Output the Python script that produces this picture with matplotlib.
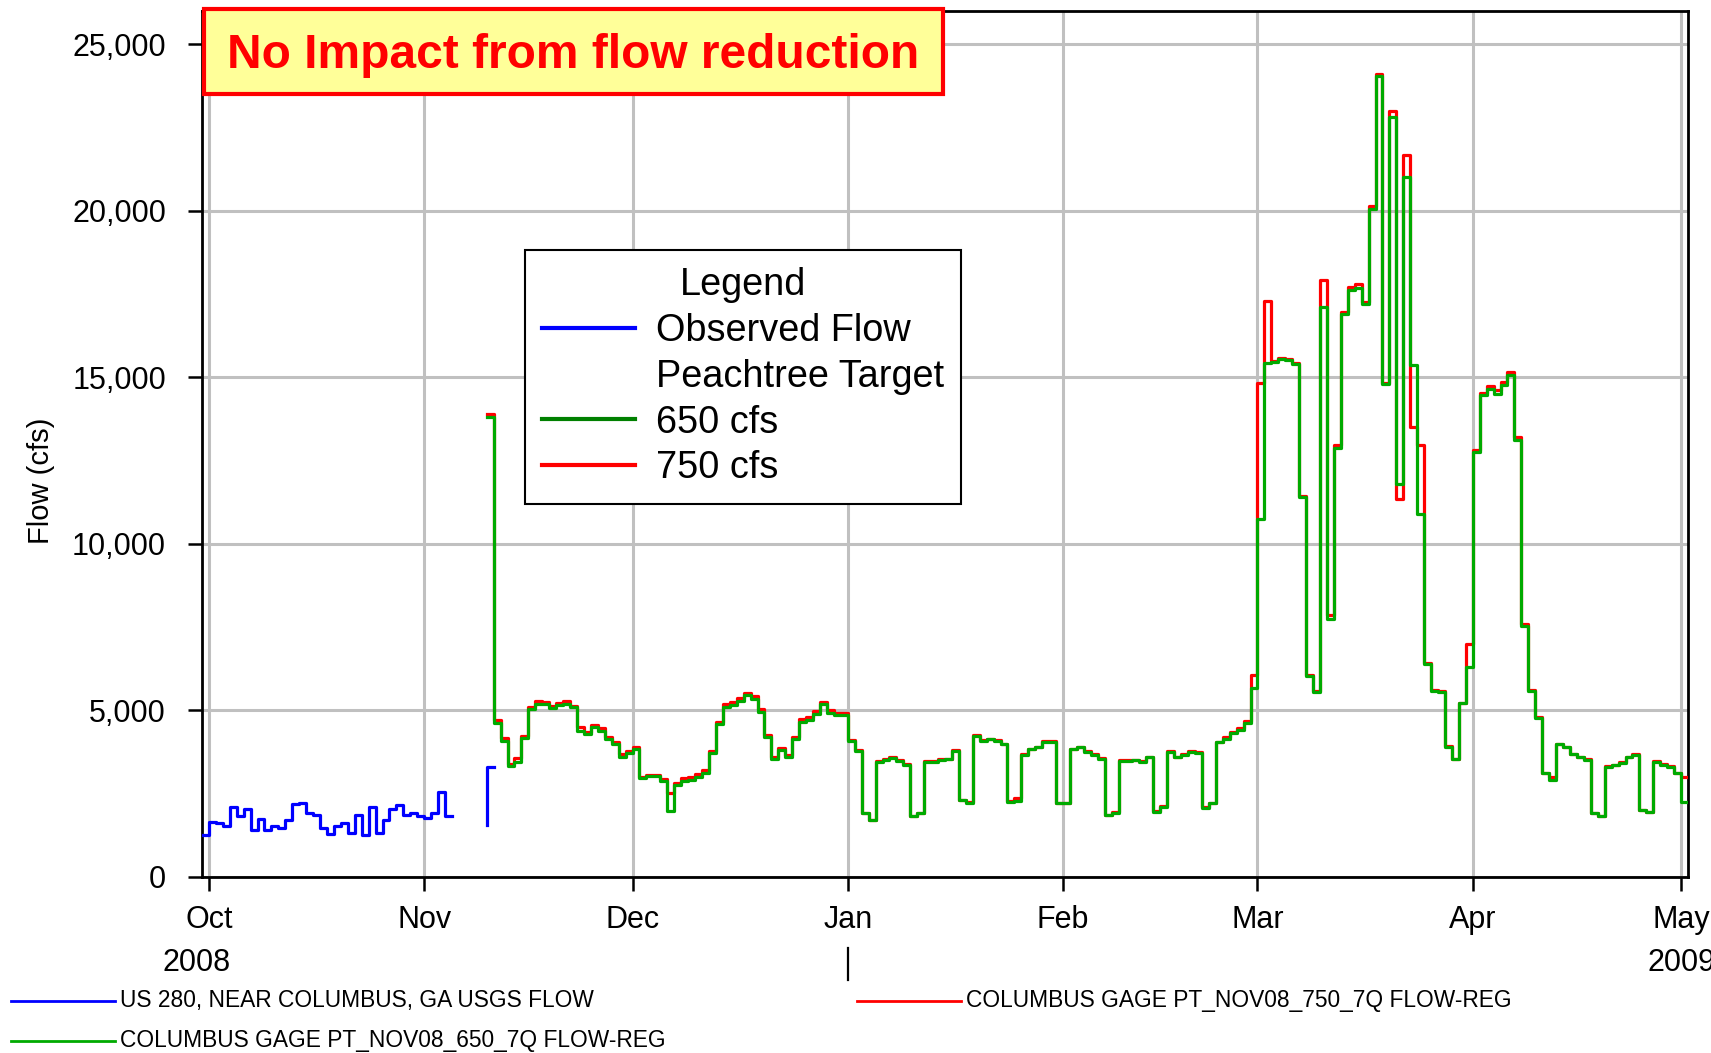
import numpy as np
import pandas as pd
import matplotlib
matplotlib.use("Agg")
import matplotlib.pyplot as plt
import matplotlib.dates as mdates
from matplotlib.lines import Line2D
from matplotlib.patches import Rectangle
from matplotlib.ticker import FuncFormatter, MultipleLocator

plt.rcParams["font.family"] = ["Liberation Sans", "DejaVu Sans"]

# ---- data (daily mean flow, cfs) ----
# observed, US 280 near Columbus, one value per day starting Sep 30 2008
obs_start = "2008-09-30"
obs_flow = [1260, 1660, 1610, 1530, 2100, 1830, 2030, 1410, 1740, 1410,
            1530, 1480, 1710, 2180, 2220, 1910, 1860, 1480, 1290, 1530,
            1610, 1330, 1860, 1260, 2110, 1330, 1710, 2030, 2150, 1860,
            1910, 1830, 1760, 1910, 2560, 1830]
# short observed piece around Nov 10 (period-end stamps)
obs_nov_dates = ["2008-11-10", "2008-11-11"]
obs_nov_flow = [1550, 3290]

# regulated runs, one value per day starting Nov 10 2008
reg_start = "2008-11-10"
f650_nov = [13800, 4630, 4090, 3330, 3460, 4160, 5030, 5190, 5190, 5060, 5160,
            5190, 5090, 4390, 4290, 4490, 4390, 4130, 3990, 3590, 3730]
f650_dec = [3830, 2960, 3030, 3030, 2880, 1990, 2760, 2880, 2910, 2990, 3110,
            3730, 4590, 5090, 5160, 5280, 5450, 5350, 4960, 4190, 3530, 3810,
            3590, 4130, 4660, 4710, 4890, 5190, 4930, 4860, 4860]
f650_jan = [4090, 3790, 1910, 1710, 3460, 3510, 3570, 3480, 3360, 1830, 1910,
            3460, 3450, 3510, 3530, 3780, 2310, 2230, 4230, 4090, 4130, 4090,
            3980, 2260, 2290, 3660, 3830, 3890, 4060, 4050, 2210]
f650_feb = [2210, 3830, 3890, 3760, 3660, 3540, 1860, 1930, 3490, 3490, 3500,
            3460, 3590, 1960, 2110, 3760, 3590, 3660, 3760, 3730, 2080, 2210,
            4040, 4140, 4310, 4410, 4630, 5660]
f650_mar = [10760, 15430, 15460, 15560, 15530, 15410, 11410, 6030, 5550, 17110,
            7760, 12890, 16890, 17630, 17690, 17190, 20060, 24060, 14810, 22810,
            11810, 21010, 15360, 10910, 6390, 5590, 5550, 3910, 3530, 5210, 6290]
f650_apr = [12760, 14460, 14660, 14510, 14760, 15060, 13110, 7530, 5590, 4780,
            3110, 2910, 3980, 3890, 3680, 3590, 3510, 1910, 1830, 3310, 3350,
            3430, 3590, 3660, 2010, 1940, 3460, 3360, 3310, 3110]
f650_may = [2240]

f750_nov = [13900, 4710, 4160, 3390, 3560, 4240, 5090, 5270, 5260, 5140, 5230,
            5270, 5140, 4490, 4360, 4550, 4460, 4210, 4060, 3680, 3790]
f750_dec = [3910, 3010, 3050, 3050, 2930, 2510, 2810, 2980, 3010, 3080, 3210,
            3790, 4660, 5190, 5240, 5360, 5530, 5420, 5050, 4260, 3610, 3870,
            3660, 4190, 4750, 4790, 4990, 5260, 5010, 4920, 4930]
f750_jan = [4110, 3810, 1920, 1720, 3480, 3530, 3590, 3500, 3380, 1840, 1920,
            3480, 3470, 3530, 3550, 3800, 2320, 2240, 4250, 4110, 4150, 4110,
            4000, 2270, 2360, 3680, 3850, 3910, 4080, 4070, 2220]
f750_feb = [2220, 3850, 3910, 3780, 3680, 3560, 1870, 1940, 3510, 3510, 3520,
            3480, 3610, 1970, 2120, 3780, 3610, 3680, 3780, 3750, 2090, 2220,
            4060, 4190, 4360, 4470, 4690, 6060]
f750_mar = [14830, 17290, 15480, 15580, 15550, 15430, 11430, 6050, 5570, 17910,
            7860, 12960, 16960, 17710, 17790, 17260, 20160, 24110, 14830, 23010,
            11340, 21680, 13510, 12980, 6410, 5610, 5570, 3930, 3550, 5230, 6990]
f750_apr = [12830, 14530, 14730, 14610, 14860, 15160, 13210, 7610, 5610, 4800,
            3130, 3010, 4000, 3910, 3700, 3610, 3530, 1920, 1840, 3330, 3370,
            3460, 3610, 3680, 2020, 1950, 3480, 3380, 3330, 3130]
f750_may = [3010]

flow_650 = f650_nov + f650_dec + f650_jan + f650_feb + f650_mar + f650_apr + f650_may
flow_750 = f750_nov + f750_dec + f750_jan + f750_feb + f750_mar + f750_apr + f750_may

bottom_labels = ["US 280, NEAR COLUMBUS, GA USGS FLOW",
                 "COLUMBUS GAGE PT_NOV08_750_7Q FLOW-REG",
                 "COLUMBUS GAGE PT_NOV08_650_7Q FLOW-REG"]

BLUE = "#0000ff"
GREEN = "#00aa00"
RED = "#ff0000"


def daily_steps(start, values):
    # one step per day, closed at the end of the last day
    x = pd.date_range(start, periods=len(values) + 1, freq="D")
    y = list(values) + [values[-1]]
    return x, y


W, H = 1711, 1053
fig = plt.figure(figsize=(W / 100, H / 100), dpi=100)
ax = fig.add_axes([202 / W, 1 - 877 / H, (1688 - 202) / W, (877 - 11) / H])

x, y = daily_steps(reg_start, flow_750)
ax.plot(x, y, drawstyle="steps-post", color=RED, lw=2.3, zorder=3)
x, y = daily_steps(reg_start, flow_650)
ax.plot(x, y, drawstyle="steps-post", color=GREEN, lw=2.3, zorder=4)
x, y = daily_steps(obs_start, obs_flow)
ax.plot(x, y, drawstyle="steps-post", color=BLUE, lw=2.3, zorder=5)
ax.plot(pd.to_datetime(obs_nov_dates), obs_nov_flow, drawstyle="steps-pre",
        color=BLUE, lw=2.3, zorder=5)

ax.set_xlim(pd.Timestamp("2008-09-30"), pd.Timestamp("2009-05-02"))
ax.set_ylim(0, 26000)
ax.xaxis.set_major_locator(mdates.MonthLocator())
ax.xaxis.set_major_formatter(mdates.DateFormatter("%b"))
ax.yaxis.set_major_locator(MultipleLocator(5000))
ax.yaxis.set_major_formatter(FuncFormatter(lambda v, p: f"{v:,.0f}"))

ax.grid(True, color="#c0c0c0", lw=2.2)
ax.set_axisbelow(True)
for s in ax.spines.values():
    s.set_linewidth(2)
    s.set_color("black")
ax.tick_params(axis="both", direction="out", length=10, width=1.8,
               labelsize=22, colors="black")
ax.tick_params(axis="x", pad=10)
ax.tick_params(axis="y", pad=16)

ax.set_ylabel("Flow (cfs)", fontsize=21, va="center")
ax.yaxis.set_label_coords(-0.1083, 0.458)

# year labels and divider under the month labels
trans = ax.get_xaxis_transform()
ax.text(pd.Timestamp("2008-09-29 06:00"), -0.099, "2008", transform=trans,
        ha="center", va="center", fontsize=22)
ax.text(pd.Timestamp("2009-05-01"), -0.099, "2009", transform=trans,
        ha="center", va="center", fontsize=22, clip_on=False)
ax.plot([pd.Timestamp("2009-01-01")] * 2, [-0.082, -0.119], transform=trans,
        color="black", lw=1.6, clip_on=False)

# headline box
fig.add_artist(Rectangle((204 / W, 1 - 94 / H), (943 - 204) / W, 85 / H,
                         transform=fig.transFigure, facecolor="#ffff99",
                         edgecolor="red", lw=3, zorder=5))
fig.text(573 / W, 1 - 56 / H, "No Impact from flow reduction", color="red",
         fontsize=34.5, fontweight="bold", ha="center", va="center", zorder=6)

# legend inside the plot
handles = [Line2D([], [], color=BLUE, lw=3),
           Line2D([], [], color="none"),
           Line2D([], [], color="#008000", lw=3),
           Line2D([], [], color=RED, lw=3)]
labels = ["Observed Flow", "Peachtree Target", "650 cfs", "750 cfs"]
leg = ax.legend(handles, labels, title="Legend", loc="upper left",
                bbox_to_anchor=(525 / W, 1 - 250 / H),
                bbox_transform=fig.transFigure, fontsize=27.3,
                title_fontsize=27.3, fancybox=False, edgecolor="black",
                framealpha=1, handlelength=2.45, handletextpad=0.55,
                labelspacing=0.26, borderpad=0.45, borderaxespad=0)
leg.get_frame().set_linewidth(1.5)
leg.set_zorder(10)

# series key along the bottom
key = [(11, 1001, BLUE, bottom_labels[0]),
       (857, 1001, RED, bottom_labels[1]),
       (11, 1041, GREEN, bottom_labels[2])]
for px, py, col, txt in key:
    fig.add_artist(Line2D([px / W, (px + 104) / W], [1 - py / H] * 2,
                          transform=fig.transFigure, color=col, lw=2))
    fig.text((px + 109) / W, 1 - py / H, txt, fontsize=16.4,
             ha="left", va="center")

fig.savefig("out.png", dpi=100)
